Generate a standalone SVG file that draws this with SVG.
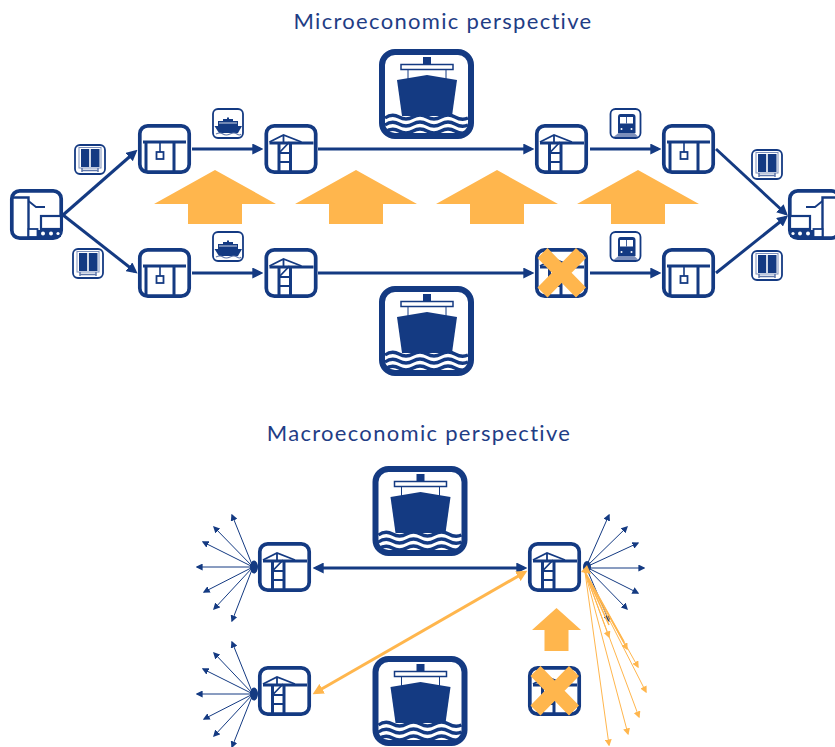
<svg xmlns="http://www.w3.org/2000/svg" width="835" height="747" viewBox="0 0 835 747">
<style>
.t{font-family:"Lato","Noto Sans",sans-serif;font-size:22px;fill:#1f3d85;letter-spacing:1.3px;text-anchor:middle}
.box{fill:#fff;stroke:#143a82;stroke-width:3.700}
.bs{fill:#fff;stroke:#143a82;stroke-width:1.8}
.n{fill:none;stroke:#143a82}
.f{fill:#143a82}
.o{fill:#ffb64d}
.c{fill:none;stroke:#143a82;stroke-width:3}
.co{fill:none;stroke:#ffb64d;stroke-width:3}
.th{fill:none;stroke:#143a82;stroke-width:1}
.tho{fill:none;stroke:#ffb64d;stroke-width:1}
.x{fill:none;stroke:#ffb64d;stroke-width:14}
</style>
<defs>
<marker id="a" markerUnits="userSpaceOnUse" markerWidth="11" markerHeight="11" viewBox="0 0 10 10" refX="7" refY="5" orient="auto-start-reverse"><path d="M0 0L10 5L0 10z" fill="#143a82"/></marker>
<marker id="ao" markerUnits="userSpaceOnUse" markerWidth="11" markerHeight="11" viewBox="0 0 10 10" refX="7" refY="5" orient="auto-start-reverse"><path d="M0 0L10 5L0 10z" fill="#ffb64d"/></marker>
<marker id="s" markerUnits="userSpaceOnUse" markerWidth="7" markerHeight="7" viewBox="0 0 10 10" refX="8" refY="5" orient="auto"><path d="M0 0L10 5L0 10z" fill="#143a82"/></marker>
<marker id="so" markerUnits="userSpaceOnUse" markerWidth="7" markerHeight="7" viewBox="0 0 10 10" refX="8" refY="5" orient="auto"><path d="M0 0L10 5L0 10z" fill="#ffb64d"/></marker>
<symbol id="port" overflow="visible" viewBox="0 0 53 50" width="53" height="50">
<rect class="box" x="1.800" y="1.800" width="49.400" height="46.400" rx="8"/>
<path class="n" stroke-width="3" d="M5 19H49M14.500 19V47M26 19V47"/>
<path class="n" stroke-width="1.800" d="M5 18L19 11L37 18M19 11V18M14.500 29L25 18M14.500 29H26M14.500 38H26"/>
</symbol>
<symbol id="wh" overflow="visible" viewBox="0 0 53 50" width="53" height="50">
<rect class="box" x="1.800" y="1.800" width="49.400" height="46.400" rx="8"/>
<path class="n" stroke-width="3" d="M5 18H48M8 18V47M36 18V47"/>
<path class="n" stroke-width="1.600" d="M22 18V28"/>
<rect x="18.500" y="28" width="7" height="7" fill="#fff" stroke="#143a82" stroke-width="1.800"/>
</symbol>
<symbol id="truck" overflow="visible" viewBox="0 0 53 51" width="53" height="51">
<rect class="box" x="1.800" y="1.800" width="49.400" height="47.400" rx="8"/>
<path class="n" stroke-width="2.400" d="M3 8.500H18.500V48"/>
<path class="n" stroke-width="1.800" d="M18.500 12L26 18H35"/>
<rect x="31" y="27" width="20" height="13" fill="#fff" stroke="#143a82" stroke-width="2.200"/>
<rect x="18.500" y="40" width="9" height="8" fill="#fff" stroke="#143a82" stroke-width="1.800"/>
<rect x="28" y="41" width="23" height="7" class="f"/>
<circle cx="33" cy="44.500" r="2" fill="#fff"/><circle cx="41" cy="44.500" r="2" fill="#fff"/><circle cx="48" cy="44.500" r="1.600" fill="#fff"/>
</symbol>
<symbol id="ship" overflow="visible" viewBox="0 0 95 90" width="95" height="90">
<rect x="3" y="3" width="89" height="84" rx="13" fill="#fff" stroke="#143a82" stroke-width="6"/>
<path class="f" d="M18 31L48 26L78 31L73 67H23z"/>
<rect class="f" x="44" y="8" width="8" height="7"/>
<rect x="22" y="15.500" width="52" height="5" fill="#fff" stroke="#143a82" stroke-width="1.500"/>
<path class="n" stroke-width="1" d="M29 20V30M67 20V30"/>
<path class="n" stroke-width="3.300" d="M6 69Q13 64 20 68T34 68T48 68T62 68T76 68T89 69M6 76Q13 71 20 75T34 75T48 75T62 75T76 75T89 76M6 83Q13 78 20 82T34 82T48 82T62 82T76 82T89 83"/>
</symbol>
<symbol id="cont" overflow="visible" viewBox="0 0 32 31" width="32" height="31">
<rect class="bs" x="1" y="1" width="30" height="29" rx="5"/>
<rect x="5" y="3.500" width="22" height="20.500" fill="none" stroke="#7d90bb" stroke-width="1"/>
<path class="f" d="M7 5H15.200V23H7zM16.800 5H25.500V23H16.800z"/>
<path d="M8 24V28M24 24V28M8 26.500H24" stroke="#5f77aa" stroke-width="1.500" fill="none"/>
</symbol>
<symbol id="ferry" overflow="visible" viewBox="0 0 32 31" width="32" height="31">
<rect class="bs" x="1" y="1" width="30" height="29" rx="5"/>
<path class="f" d="M2.500 18H30L26 25H7z"/>
<path class="f" d="M6 13H26V18H6zM11 11H21V13H11zM15 9.500H17V11H15z"/>
<path d="M7 15H25" stroke="#fff" stroke-width=".8"/>
<path d="M4 26Q8 24 11 26T18 26T25 26T29 26" fill="none" stroke="#5f77aa" stroke-width="1.200"/>
</symbol>
<symbol id="train" overflow="visible" viewBox="0 0 32 31" width="32" height="31">
<rect class="bs" x="1" y="1" width="30" height="29" rx="5"/>
<path class="f" d="M11 6H23Q26 6 26 9V25H8.500V9Q8.500 6 11 6z"/>
<rect x="10.500" y="9" width="13" height="6.500" fill="#fff"/>
<path d="M17 9V15.500" stroke="#143a82" stroke-width=".8"/>
<circle cx="12" cy="21" r="1" fill="#fff"/><circle cx="22" cy="21" r="1" fill="#fff"/>
<path d="M9 25H25L29 29H4z" fill="#7d90bb"/>
</symbol>
<symbol id="up" overflow="visible" viewBox="0 0 122 54" width="122" height="54">
<path class="o" d="M61 0L122 34H88V54H34V34H0z"/>
</symbol>
</defs>

<text class="t" x="443" y="29">Microeconomic perspective</text>
<text class="t" x="419" y="441">Macroeconomic perspective</text>

<g id="connectors">
<path class="c" marker-end="url(#a)" d="M63 215L135 152"/>
<path class="c" marker-end="url(#a)" d="M63 215L135 271.500"/>
<path class="c" marker-end="url(#a)" d="M192 149H260"/>
<path class="c" marker-end="url(#a)" d="M192 273H260"/>
<path class="c" marker-end="url(#a)" d="M318 149H531"/>
<path class="c" marker-end="url(#a)" d="M318 273H531"/>
<path class="c" marker-end="url(#a)" d="M590 149H658"/>
<path class="c" marker-end="url(#a)" d="M590 273H658"/>
<path class="c" marker-end="url(#a)" d="M716 149L785.500 213.500"/>
<path class="c" marker-end="url(#a)" d="M716 273L785.500 217.500"/>
<path class="c" marker-start="url(#a)" marker-end="url(#a)" d="M316 568H524"/>
<g id="fan-left-top">
<path class="th" marker-end="url(#s)" d="M253 567L232 515"/><path class="th" marker-end="url(#s)" d="M253 567L214 527"/><path class="th" marker-end="url(#s)" d="M253 567L203 542"/><path class="th" marker-end="url(#s)" d="M253 567L197 567"/><path class="th" marker-end="url(#s)" d="M253 567L204 592"/><path class="th" marker-end="url(#s)" d="M253 567L214 609"/><path class="th" marker-end="url(#s)" d="M253 567L232 621"/>
<ellipse class="f" cx="254" cy="567" rx="4" ry="6.500"/>
</g>
<g id="fan-left-bottom">
<path class="th" marker-end="url(#s)" d="M253 694L232 642"/><path class="th" marker-end="url(#s)" d="M253 694L214 653"/><path class="th" marker-end="url(#s)" d="M253 694L203 669"/><path class="th" marker-end="url(#s)" d="M253 694L197 694"/><path class="th" marker-end="url(#s)" d="M253 694L204 719"/><path class="th" marker-end="url(#s)" d="M253 694L214 736"/><path class="th" marker-end="url(#s)" d="M253 694L232 747"/>
<ellipse class="f" cx="254" cy="694" rx="4" ry="6.500"/>
</g>
<g id="fan-right-top">
<path class="th" marker-end="url(#s)" d="M586 567L609 515"/><path class="th" marker-end="url(#s)" d="M586 567L627 527"/><path class="th" marker-end="url(#s)" d="M586 567L638 543"/><path class="th" marker-end="url(#s)" d="M586 568H644"/><path class="th" marker-end="url(#s)" d="M586 567L638 593"/><path class="th" marker-end="url(#s)" d="M586 567L627 609"/><path class="th" marker-end="url(#s)" d="M586 567L609 621"/>
<ellipse class="f" cx="587" cy="567" rx="4" ry="6"/>
</g>
<g id="fan-right-orange">
<path class="tho" marker-end="url(#so)" d="M585 572L609 637"/><path class="tho" marker-end="url(#so)" d="M585 572L627 649"/><path class="tho" marker-end="url(#so)" d="M585 572L638 667"/><path class="tho" marker-end="url(#so)" d="M585 572L646 692"/><path class="tho" marker-end="url(#so)" d="M585 572L639 717"/><path class="tho" marker-end="url(#so)" d="M585 572L628 734"/><path class="tho" marker-end="url(#so)" d="M585 572L609 745"/>
<path class="o" d="M581 572L587 565L591 574z"/>
<path d="M586 574L609 625M586 574L624 642" stroke="#ffb64d" stroke-width="1.600" fill="none"/>
</g>
<path class="co" marker-start="url(#ao)" marker-end="url(#ao)" d="M315.500 692.500L524.500 572.500"/>
</g>

<g id="truck-left"><use href="#truck" x="10" y="189"/></g>
<g id="truck-right"><use href="#truck" transform="translate(841 189) scale(-1 1)"/></g>

<g id="wh-1"><use href="#wh" x="138" y="124"/></g>
<g id="port-1"><use href="#port" x="264.500" y="124"/></g>
<g id="port-2"><use href="#port" x="535" y="124"/></g>
<g id="wh-2"><use href="#wh" x="662" y="124"/></g>
<g id="wh-3"><use href="#wh" x="138" y="248"/></g>
<g id="port-3"><use href="#port" x="264.500" y="248"/></g>
<g id="port-4"><use href="#port" x="535" y="248"/><path class="x" d="M542.500 253L581 292.500M581 253L542.500 292.500"/></g>
<g id="wh-4"><use href="#wh" x="662" y="248"/></g>

<g id="ship-1"><use href="#ship" x="379" y="49"/></g>
<g id="ship-2"><use href="#ship" x="379" y="286"/></g>
<g id="ship-3"><use href="#ship" x="372.500" y="466"/></g>
<g id="ship-4"><use href="#ship" x="372.500" y="656"/></g>

<g id="container-1"><use href="#cont" x="74" y="144"/></g>
<g id="container-2"><use href="#cont" x="72" y="248"/></g>
<g id="container-3"><use href="#cont" x="751" y="149"/></g>
<g id="container-4"><use href="#cont" x="751" y="250"/></g>
<g id="ferry-1"><use href="#ferry" x="212" y="108"/></g>
<g id="ferry-2"><use href="#ferry" x="212" y="231"/></g>
<g id="train-1"><use href="#train" x="609.500" y="108"/></g>
<g id="train-2"><use href="#train" x="609.500" y="231"/></g>

<g id="up-1"><use href="#up" x="154" y="170"/></g>
<g id="up-2"><use href="#up" x="295" y="170"/></g>
<g id="up-3"><use href="#up" x="436" y="170"/></g>
<g id="up-4"><use href="#up" x="577" y="170"/></g>
<g id="up-5"><path class="o" d="M556.500 608L581 630H568.500V651H544.500V630H532z"/></g>

<g id="port-m1"><use href="#port" x="258" y="542"/></g>
<g id="port-m2"><use href="#port" x="528" y="542"/></g>
<g id="port-m3"><use href="#port" x="258" y="666"/></g>
<g id="port-m4"><use href="#port" x="528" y="666"/><path class="x" d="M535.500 671L574 710.500M574 671L535.500 710.500"/></g>
</svg>
